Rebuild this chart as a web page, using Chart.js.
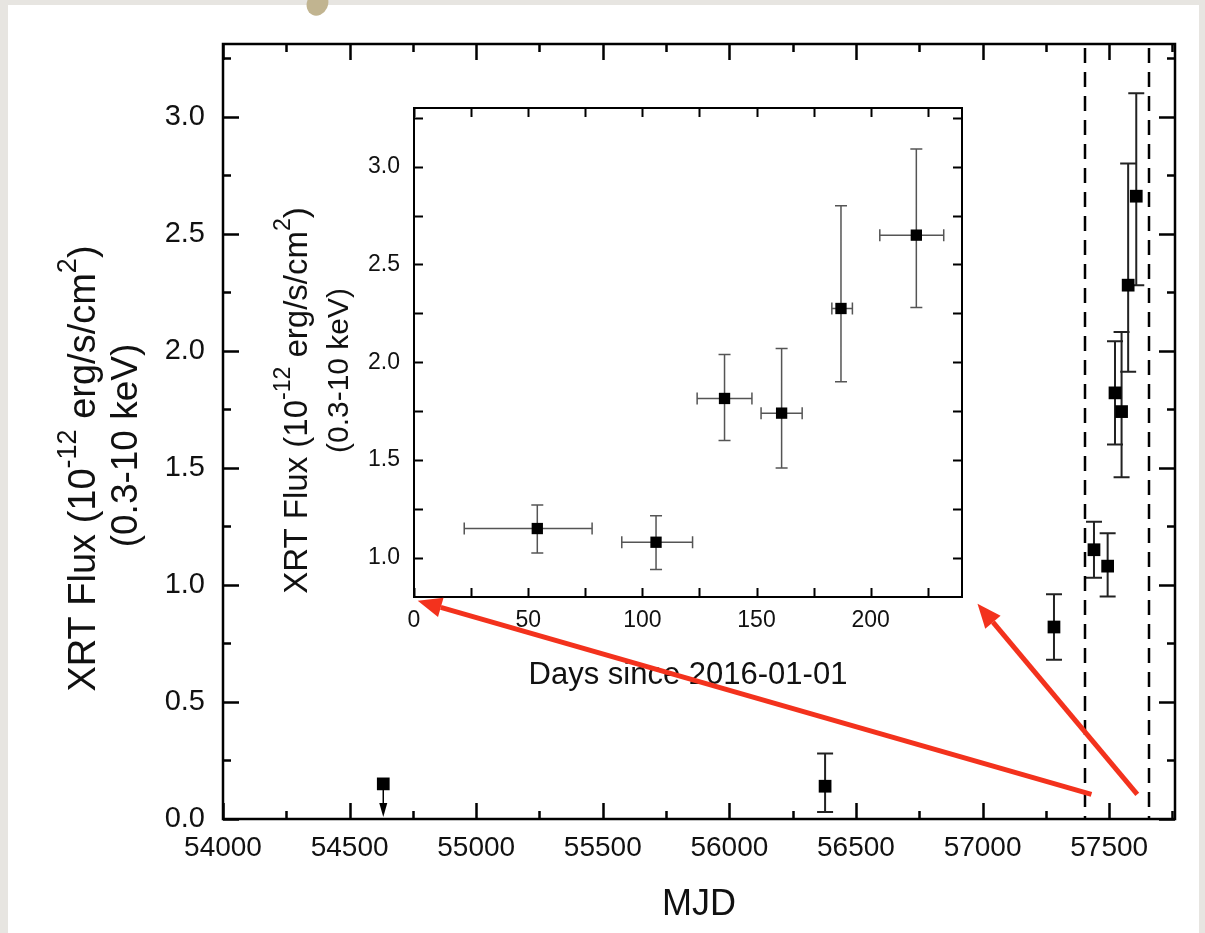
<!DOCTYPE html>
<html lang="en">
  <head>
    <meta charset="UTF-8" />
    <title>XRT light curve</title>
    <style>
      body {
        margin: 0;
        width: 1205px;
        height: 933px;
        overflow: hidden;
        background: #e7e5e1;
        position: relative;
      }
      .sheet {
        position: absolute;
        left: 8px;
        top: 5px;
        width: 1191px;
        height: 928px;
        background: #fff;
      }
      .pin {
        position: absolute;
        left: 307px;
        top: -9px;
        width: 21px;
        height: 25px;
        border-radius: 50%;
        background: #c1b490;
        transform: rotate(25deg);
      }
      canvas {
        position: absolute;
        left: 0;
        top: 0;
      }
      #inset { z-index: 1; }
      #main { z-index: 2; }
    </style>
  </head>
  <body>
    <div class="sheet"></div>
    <div class="pin"></div>
    <canvas id="inset" width="1205" height="933"></canvas>
    <canvas id="main" width="1205" height="933"></canvas>

    <script src="https://cdn.jsdelivr.net/npm/chart.js"></script>
    <script>
      // main light curve (MJD)
      const mjd = [54633, 56378, 57282, 57440, 57494, 57523, 57549, 57575, 57607];
      const flux = [0.15, 0.14, 0.82, 1.15, 1.08, 1.82, 1.74, 2.28, 2.66];
      const fluxLow = [null, 0.03, 0.68, 1.03, 0.95, 1.6, 1.46, 1.91, 2.28];
      const fluxHigh = [null, 0.28, 0.96, 1.27, 1.22, 2.04, 2.08, 2.8, 3.1];
      const upperLimit = [true, false, false, false, false, false, false, false, false];
      const windowMjd = [57404, 57656];
      const mainXTicks = [54000, 54500, 55000, 55500, 56000, 56500, 57000, 57500];
      const mainYTicks = [0, 0.5, 1, 1.5, 2, 2.5, 3];

      // inset (days since 2016-01-01)
      const days = [54, 106, 136, 161, 187, 220];
      const daysLow = [22, 91, 124, 152, 183, 204];
      const daysHigh = [78, 122, 148, 170, 192, 232];
      const insetFlux = [1.15, 1.08, 1.815, 1.74, 2.275, 2.65];
      const insetFluxLow = [1.025, 0.94, 1.6, 1.46, 1.9, 2.28];
      const insetFluxHigh = [1.27, 1.215, 2.04, 2.07, 2.8, 3.09];
      const insetXTicks = [0, 50, 100, 150, 200];
      const insetYTicks = [1, 1.5, 2, 2.5, 3];

      // red pointer arrows, in main-plot data coordinates
      const arrowFrom = [[57430, 0.105], [57611, 0.105]];
      const arrowTo = [[54769, 0.932], [56980, 0.919]];

      const FONT = "'Liberation Sans', Arial, sans-serif";
      const yTitle = [
        { t: "XRT Flux (10" },
        { t: "-12", sup: true },
        { t: " erg/s/cm" },
        { t: "2", sup: true },
        { t: ")" },
      ];

      function range(a, b, step) {
        const out = [];
        for (let v = a; v <= b + 1e-9; v += step) out.push(+v.toFixed(4));
        return out;
      }

      function drawRich(ctx, parts, cx, cy, size) {
        const supSize = Math.round(size * 0.7);
        let total = 0;
        parts.forEach((p) => {
          ctx.font = (p.sup ? supSize : size) + "px " + FONT;
          p.w = ctx.measureText(p.t).width;
          total += p.w;
        });
        let x = cx - total / 2;
        ctx.textAlign = "left";
        ctx.textBaseline = "middle";
        parts.forEach((p) => {
          ctx.font = (p.sup ? supSize : size) + "px " + FONT;
          ctx.fillText(p.t, x, p.sup ? cy - size * 0.42 : cy);
          x += p.w;
        });
      }

      // inward ticks on all four sides + frame
      const frameTicks = {
        id: "frameTicks",
        afterDraw(chart, args, o) {
          const { ctx, chartArea: a } = chart;
          const { x, y } = chart.scales;
          ctx.save();
          ctx.strokeStyle = "#000";
          ctx.lineWidth = o.lw;
          ctx.beginPath();
          const tickX = (v, len) => {
            const px = Math.round(x.getPixelForValue(v)) + 0.5;
            ctx.moveTo(px, a.bottom);
            ctx.lineTo(px, a.bottom - len);
            ctx.moveTo(px, a.top);
            ctx.lineTo(px, a.top + len);
          };
          const tickY = (v, len) => {
            const py = Math.round(y.getPixelForValue(v)) + 0.5;
            ctx.moveTo(a.left, py);
            ctx.lineTo(a.left + len, py);
            ctx.moveTo(a.right, py);
            ctx.lineTo(a.right - len, py);
          };
          o.xMajor.forEach((v) => tickX(v, o.major));
          o.xMinor.forEach((v) => tickX(v, o.minor));
          o.yMajor.forEach((v) => tickY(v, o.major));
          o.yMinor.forEach((v) => tickY(v, o.minor));
          ctx.stroke();
          ctx.strokeRect(a.left, a.top, a.width, a.height);
          ctx.restore();
        },
      };

      // error bars: vertical always, horizontal when x bounds are given
      const errorBars = {
        id: "errorBars",
        beforeDatasetsDraw(chart, args, o) {
          const { ctx } = chart;
          const { x, y } = chart.scales;
          ctx.save();
          ctx.strokeStyle = o.color;
          ctx.lineWidth = o.lw;
          ctx.beginPath();
          o.xs.forEach((xv, i) => {
            const px = x.getPixelForValue(xv);
            const py = y.getPixelForValue(o.ys[i]);
            if (o.lo[i] != null) {
              const p1 = y.getPixelForValue(o.lo[i]);
              const p2 = y.getPixelForValue(o.hi[i]);
              ctx.moveTo(px, p1);
              ctx.lineTo(px, p2);
              ctx.moveTo(px - o.cap, p1);
              ctx.lineTo(px + o.cap, p1);
              ctx.moveTo(px - o.cap, p2);
              ctx.lineTo(px + o.cap, p2);
            }
            if (o.xlo) {
              const q1 = x.getPixelForValue(o.xlo[i]);
              const q2 = x.getPixelForValue(o.xhi[i]);
              ctx.moveTo(q1, py);
              ctx.lineTo(q2, py);
              ctx.moveTo(q1, py - o.cap);
              ctx.lineTo(q1, py + o.cap);
              ctx.moveTo(q2, py - o.cap);
              ctx.lineTo(q2, py + o.cap);
            }
          });
          ctx.stroke();
          // upper limits
          (o.ul || []).forEach((isUl, i) => {
            if (!isUl) return;
            const px = x.getPixelForValue(o.xs[i]);
            const top = y.getPixelForValue(o.ys[i]);
            const tip = y.getPixelForValue(0) - 2;
            ctx.strokeStyle = "#000";
            ctx.lineWidth = 1.5;
            ctx.beginPath();
            ctx.moveTo(px, top);
            ctx.lineTo(px, tip - 10);
            ctx.stroke();
            ctx.fillStyle = "#000";
            ctx.beginPath();
            ctx.moveTo(px - 4, tip - 14);
            ctx.lineTo(px + 4, tip - 14);
            ctx.lineTo(px, tip);
            ctx.closePath();
            ctx.fill();
          });
          // dashed window lines
          if (o.vlines) {
            const a = chart.chartArea;
            ctx.strokeStyle = "#000";
            ctx.lineWidth = 2.5;
            ctx.setLineDash([15, 9]);
            ctx.beginPath();
            o.vlines.forEach((v) => {
              const px = Math.round(x.getPixelForValue(v));
              ctx.moveTo(px, a.top + 4);
              ctx.lineTo(px, a.bottom);
            });
            ctx.stroke();
            ctx.setLineDash([]);
          }
          ctx.restore();
        },
      };

      const axisTitles = {
        id: "axisTitles",
        afterDraw(chart, args, o) {
          const { ctx, chartArea: a } = chart;
          const mid = (a.top + a.bottom) / 2;
          ctx.save();
          ctx.fillStyle = "#111";
          ctx.font = o.size + "px " + FONT;
          ctx.textAlign = "center";
          ctx.textBaseline = "middle";
          ctx.fillText(o.xTitle, (a.left + a.right) / 2, a.bottom + o.xOff);
          ctx.translate(a.left - o.yOff1, mid + o.yShift1);
          ctx.rotate(-Math.PI / 2);
          drawRich(ctx, yTitle, 0, 0, o.ySize1);
          ctx.restore();
          ctx.save();
          ctx.fillStyle = "#111";
          ctx.translate(a.left - o.yOff2, mid + o.yShift2);
          ctx.rotate(-Math.PI / 2);
          ctx.font = o.ySize2 + "px " + FONT;
          ctx.textAlign = "center";
          ctx.textBaseline = "middle";
          ctx.fillText("(0.3-10 keV)", 0, 0);
          ctx.restore();
        },
      };

      const pointers = {
        id: "pointers",
        afterDraw(chart) {
          const { ctx } = chart;
          const { x, y } = chart.scales;
          ctx.save();
          ctx.strokeStyle = "#f3321d";
          ctx.fillStyle = "#f3321d";
          ctx.lineWidth = 5;
          arrowFrom.forEach((f, i) => {
            const x0 = x.getPixelForValue(f[0]);
            const y0 = y.getPixelForValue(f[1]);
            const x1 = x.getPixelForValue(arrowTo[i][0]);
            const y1 = y.getPixelForValue(arrowTo[i][1]);
            const ang = Math.atan2(y1 - y0, x1 - x0);
            const head = 24;
            const bx = x1 - head * Math.cos(ang);
            const by = y1 - head * Math.sin(ang);
            ctx.beginPath();
            ctx.moveTo(x0, y0);
            ctx.lineTo(bx, by);
            ctx.stroke();
            ctx.beginPath();
            ctx.moveTo(x1, y1);
            ctx.lineTo(bx + 10 * Math.sin(ang), by - 10 * Math.cos(ang));
            ctx.lineTo(bx - 10 * Math.sin(ang), by + 10 * Math.cos(ang));
            ctx.closePath();
            ctx.fill();
          });
          ctx.restore();
        },
      };

      function axis(min, max, tickVals, fmt, size, pad, fit) {
        return {
          type: "linear",
          min: min,
          max: max,
          grid: { display: false, drawTicks: false },
          border: { display: false },
          afterBuildTicks(s) {
            s.ticks = tickVals.map((v) => ({ value: v }));
          },
          afterFit: fit,
          ticks: {
            autoSkip: false,
            maxRotation: 0,
            padding: pad,
            color: "#111",
            font: { family: FONT, size: size },
            callback: fmt,
          },
        };
      }

      // ---- main chart ----
      new Chart(document.getElementById("main"), {
        type: "scatter",
        data: {
          datasets: [
            {
              data: mjd.map((m, i) => ({ x: m, y: flux[i] })),
              pointStyle: "rect",
              pointRadius: 9,
              backgroundColor: "#000",
              borderWidth: 0,
            },
          ],
        },
        options: {
          responsive: false,
          animation: false,
          events: [],
          layout: { padding: { top: 44, right: 30, left: 0, bottom: 0 } },
          scales: {
            x: axis(54000, 57760, mainXTicks, (v) => String(v), 28, 12, (s) => { s.height = 114; }),
            y: axis(0, 3.31, mainYTicks, (v) => v.toFixed(1), 29, 18, (s) => { s.width = 223; }),
          },
          plugins: {
            legend: { display: false },
            tooltip: { enabled: false },
            frameTicks: {
              lw: 2.5, major: 16, minor: 8,
              xMajor: mainXTicks, xMinor: range(54250, 57750, 500),
              yMajor: mainYTicks, yMinor: range(0.25, 3.25, 0.5),
            },
            errorBars: {
              color: "#222", lw: 2, cap: 8,
              xs: mjd, ys: flux, lo: fluxLow, hi: fluxHigh,
              ul: upperLimit, vlines: windowMjd,
            },
            axisTitles: {
              xTitle: "MJD", size: 36, xOff: 86,
              ySize1: 38, yOff1: 138, yShift1: 37,
              ySize2: 37, yOff2: 96, yShift2: 14,
            },
          },
        },
        plugins: [errorBars, frameTicks, axisTitles, pointers],
      });

      // ---- inset chart ----
      new Chart(document.getElementById("inset"), {
        type: "scatter",
        data: {
          datasets: [
            {
              data: days.map((d, i) => ({ x: d, y: insetFlux[i] })),
              pointStyle: "rect",
              pointRadius: 8,
              backgroundColor: "#000",
              borderWidth: 0,
            },
          ],
        },
        options: {
          responsive: false,
          animation: false,
          events: [],
          layout: { padding: { top: 108, right: 243, left: 0, bottom: 0 } },
          scales: {
            x: axis(0, 240, insetXTicks, (v) => String(v), 23, 10, (s) => { s.height = 336; }),
            y: axis(0.8, 3.3, insetYTicks, (v) => v.toFixed(1), 23, 14, (s) => { s.width = 414; }),
          },
          plugins: {
            legend: { display: false },
            tooltip: { enabled: false },
            frameTicks: {
              lw: 2, major: 9, minor: 9,
              xMajor: insetXTicks, xMinor: range(25, 225, 50),
              yMajor: insetYTicks, yMinor: range(1.25, 3.25, 0.5),
            },
            errorBars: {
              color: "#555", lw: 1.5, cap: 6,
              xs: days, ys: insetFlux, lo: insetFluxLow, hi: insetFluxHigh,
              xlo: daysLow, xhi: daysHigh,
            },
            axisTitles: {
              xTitle: "Days since 2016-01-01", size: 31, xOff: 78,
              ySize1: 33, yOff1: 116, yShift1: 48,
              ySize2: 30, yOff2: 74, yShift2: 18,
            },
          },
        },
        plugins: [errorBars, frameTicks, axisTitles],
      });
    </script>
  </body>
</html>
